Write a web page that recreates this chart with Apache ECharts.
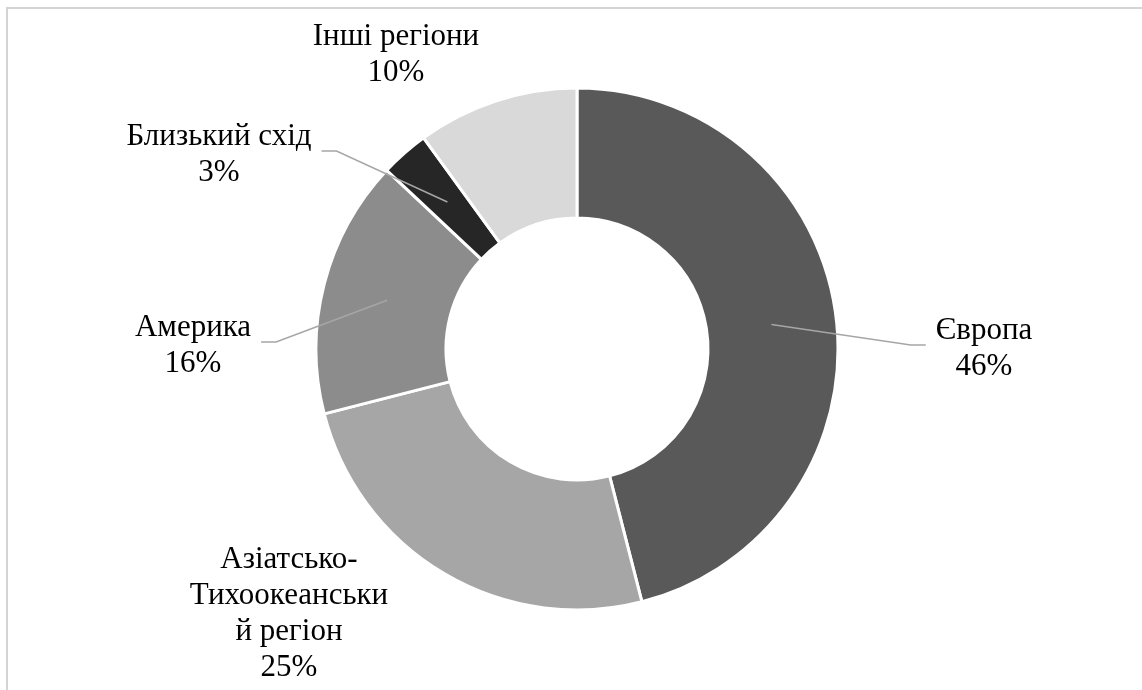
<!DOCTYPE html>
<html>
<head>
<meta charset="utf-8">
<script src="https://cdn.jsdelivr.net/npm/echarts@6/dist/echarts.min.js"></script>
<style>html,body{margin:0;padding:0;background:#fff}#c{width:1142px;height:690px}</style>
</head>
<body>
<div id="c"></div>
<script>
const categories = ['Європа', 'Азіатсько-Тихоокеанський регіон', 'Америка', 'Близький схід', 'Інші регіони'];
const displayNames = ['Європа', 'Азіатсько-\nТихоокеанськи\nй регіон', 'Америка', 'Близький схід', 'Інші регіони'];
const values = [46, 25, 16, 3, 10];
const colors = ['#595959', '#a6a6a6', '#8c8c8c', '#262626', '#d9d9d9'];
const showLines = [true, false, true, true, false];

// label centres (layout only)
const labelCenters = [[984, 349], [289, 614], [193, 346], [219, 155], [396, 55]];

const chart = echarts.init(document.getElementById('c'));
const center = [577, 349];

chart.setOption({
  backgroundColor: '#fff',
  animation: false,
  graphic: [{
    type: 'rect', silent: true, z: -1,
    shape: { x: 7, y: 8, width: 1400, height: 900 },
    style: { fill: 'none', stroke: '#d4d4d4', lineWidth: 2 }
  }],
  series: [
    {
      type: 'pie',
      center: center,
      radius: [131, 261],
      startAngle: 90,
      clockwise: true,
      silent: true,
      label: { show: false },
      labelLine: { show: false },
      itemStyle: { borderColor: '#fff', borderWidth: 3 },
      emphasis: { disabled: true },
      data: categories.map((n, i) => ({ name: n, value: values[i], itemStyle: { color: colors[i] } }))
    },
    {
      type: 'pie',
      center: center,
      radius: [0, 196],
      startAngle: 90,
      clockwise: true,
      silent: true,
      avoidLabelOverlap: false,
      z: 3,
      itemStyle: { color: 'rgba(0,0,0,0)', borderWidth: 0 },
      emphasis: { disabled: true },
      label: {
        show: true,
        position: 'outside',
        fontFamily: 'Liberation Serif',
        fontSize: 31,
        lineHeight: 36,
        color: '#000',
        align: 'center',
        formatter: p => displayNames[p.dataIndex] + '\n' + Math.round(p.percent) + '%'
      },
      labelLine: { show: true, length: 20, length2: 15, lineStyle: { color: '#a6a6a6', width: 1.5 } },
      labelLayout: function (params) {
        const i = params.dataIndex;
        const c = labelCenters[i];
        const w = params.labelRect.width;
        const res = { x: c[0], y: c[1], align: 'center', verticalAlign: 'middle', hideOverlap: false };
        if (showLines[i] && params.labelLinePoints) {
          const start = params.labelLinePoints[0];
          const right = start[0] > c[0];
          const endX = right ? c[0] + w / 2 + 10 : c[0] - w / 2 - 10;
          const bendX = right ? endX + 15 : endX - 15;
          const y = c[1] - 4;
          res.labelLinePoints = [start, [bendX, y], [endX, y]];
        }
        return res;
      },
      data: categories.map((n, i) => ({ name: n, value: values[i], labelLine: { show: showLines[i] } }))
    }
  ]
});
</script>
</body>
</html>
